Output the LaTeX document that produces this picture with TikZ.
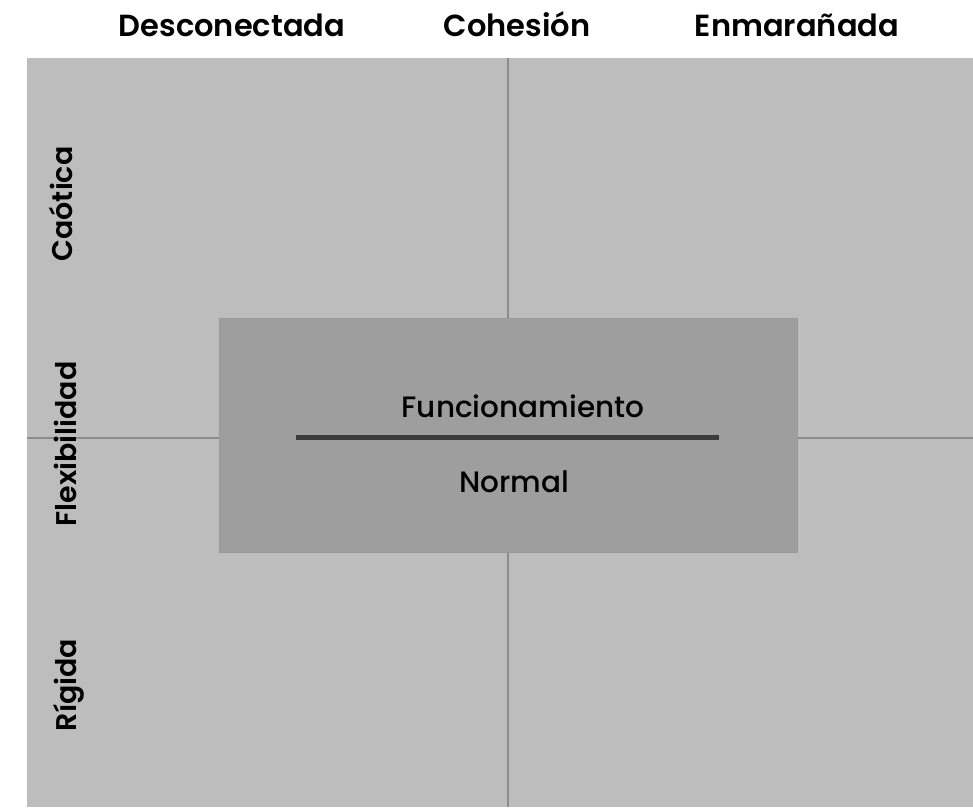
\documentclass[tikz,border=0pt]{standalone}
\usepackage{fontspec}
\setmainfont{Poppins}
\newfontfamily\semib{Poppins SemiBold}
\newfontfamily\medf{Poppins Medium}
\begin{document}
\begin{tikzpicture}[x=1pt,y=-1pt,
  toplab/.style={font=\semib\fontsize{30.5}{34}\selectfont, anchor=base, inner sep=0},
  sidelab/.style={font=\semib\fontsize{28.5}{32}\selectfont, rotate=90, anchor=base, inner sep=0},
  midlab/.style={font=\medf\fontsize{29.5}{33}\selectfont, anchor=base, inner sep=0}]
\useasboundingbox (0,0) rectangle (973,807);
\fill[fill=white] (0,0) rectangle (973,807);
% background quadrant area
\fill[fill=black!26] (27,58) rectangle (973,807);
\coordinate (vtop) at (508,58);
\coordinate (vbot) at (508,807);
\coordinate (hl) at (27,438);
\coordinate (hr) at (973,438);
\draw[line width=2pt, draw=black!45] (vtop) -- (vbot);
\draw[line width=2pt, draw=black!45] (hl) -- (hr);
% central box
\node[draw=black!40, line width=0.8pt, fill=black!38, minimum width=578pt, minimum height=234pt, inner sep=0, anchor=north west] (box) at (219,318) {};
\coordinate (la) at (296,437);
\coordinate (lb) at (719,437);
\draw[line width=5pt, draw=black!77] (la) -- (lb);
\node[midlab] (func) at (523,417) {Funcionamiento};
\node[midlab] (norm) at (514.5,492) {Normal};
% top labels
\node[toplab] (desc) at (232,36) {Desconectada};
\node[toplab] (coh) at (517,36) {Cohesión};
\node[toplab] (enm) at (797,36) {Enmarañada};
% side labels
\node[sidelab] (cao) at (72,204) {Caótica};
\node[sidelab] (flex) at (76,444) {Flexibilidad};
\node[sidelab] (rig) at (76,685) {Rígida};
\end{tikzpicture}
\end{document}
